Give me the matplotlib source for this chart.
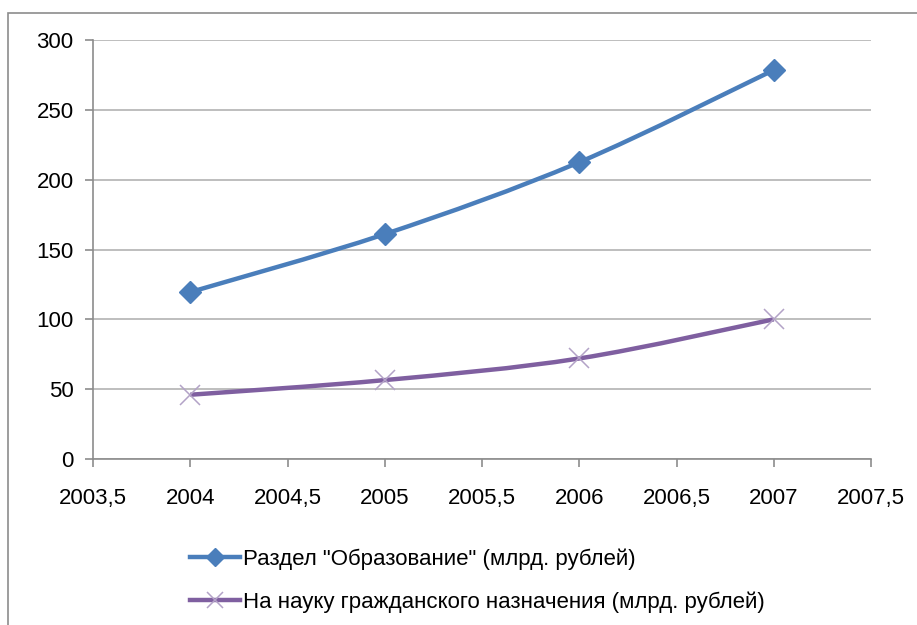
import numpy as np
import matplotlib
matplotlib.use('Agg')
import matplotlib.pyplot as plt
from matplotlib.path import Path
from matplotlib.patches import PathPatch, Rectangle
from matplotlib.lines import Line2D

plt.rcParams['font.family'] = ['Liberation Sans', 'DejaVu Sans']

# data
years = [2004, 2005, 2006, 2007]
education = [119.5, 161, 212.5, 278.5]
science = [46, 56.5, 72, 100]
labels = ['Раздел "Образование" (млрд. рублей)',
          'На науку гражданского назначения (млрд. рублей)']

blue = '#4a7ebb'
purple = '#7f5fa0'
light_purple = '#b3a2c7'


def smooth_path(xs, ys):
    # Excel-like smoothed line: Bezier segments through the data points
    pts = np.column_stack([xs, ys]).astype(float)
    verts = [pts[0]]
    codes = [Path.MOVETO]
    n = len(pts)
    for i in range(n - 1):
        p0 = pts[i - 1] if i > 0 else pts[i]
        p1 = pts[i]
        p2 = pts[i + 1]
        p3 = pts[i + 2] if i + 2 < n else pts[i + 1]
        c1 = p1 + (p2 - p0) / 6
        c2 = p2 - (p3 - p1) / 6
        verts += [c1, c2, p2]
        codes += [Path.CURVE4] * 3
    return Path(verts, codes)


fig = plt.figure(figsize=(9.17, 6.25), dpi=100)
ax = fig.add_axes([93 / 917, 1 - 459 / 625, 778 / 917, 419 / 625])

# outer chart border
fig.patches.append(Rectangle((8 / 917, -0.1), 1.2, 1 - 13 / 625 + 0.1,
                             transform=fig.transFigure, fill=False,
                             edgecolor='#8c8c8c', linewidth=1.2))

ax.add_patch(PathPatch(smooth_path(years, education), fill=False,
                       edgecolor=blue, linewidth=3.2, zorder=3))
ax.add_patch(PathPatch(smooth_path(years, science), fill=False,
                       edgecolor=purple, linewidth=3.2, zorder=3))
ax.plot(years, education, linestyle='none', marker='D', markersize=11,
        color=blue, zorder=4)
ax.plot(years, science, linestyle='none', marker='x', markersize=14,
        markeredgewidth=1.1, color=light_purple, zorder=4)

ax.set_xlim(2003.5, 2007.5)
ax.set_ylim(0, 300)
ax.set_xticks(np.arange(2003.5, 2007.6, 0.5))
ax.set_xticklabels(['2003,5', '2004', '2004,5', '2005', '2005,5',
                    '2006', '2006,5', '2007', '2007,5'])
ax.set_yticks(range(0, 301, 50))
ax.yaxis.grid(True, color='#b3b3b3', linewidth=1.2)
ax.set_axisbelow(True)
for s in ['top', 'right']:
    ax.spines[s].set_visible(False)
for s in ['left', 'bottom']:
    ax.spines[s].set_color('#8c8c8c')
    ax.spines[s].set_linewidth(1.2)
ax.tick_params(axis='both', colors='#8c8c8c', length=6, width=1.2,
               labelsize=16, labelcolor='black')
ax.tick_params(axis='x', pad=15)
ax.tick_params(axis='y', pad=8)

handles = [Line2D([], [], color=blue, linewidth=3.2, marker='D', markersize=9),
           Line2D([], [], color=purple, linewidth=3.2, marker='x', markersize=12,
                  markeredgecolor=light_purple, markeredgewidth=1.1)]
fig.legend(handles, labels, loc='center left',
           bbox_to_anchor=(190 / 917, 1 - 581 / 625), frameon=False,
           fontsize=16, handlelength=2.25, handletextpad=0.15,
           borderpad=0, borderaxespad=0, labelspacing=0.97)

fig.savefig('out.png', dpi=100)
